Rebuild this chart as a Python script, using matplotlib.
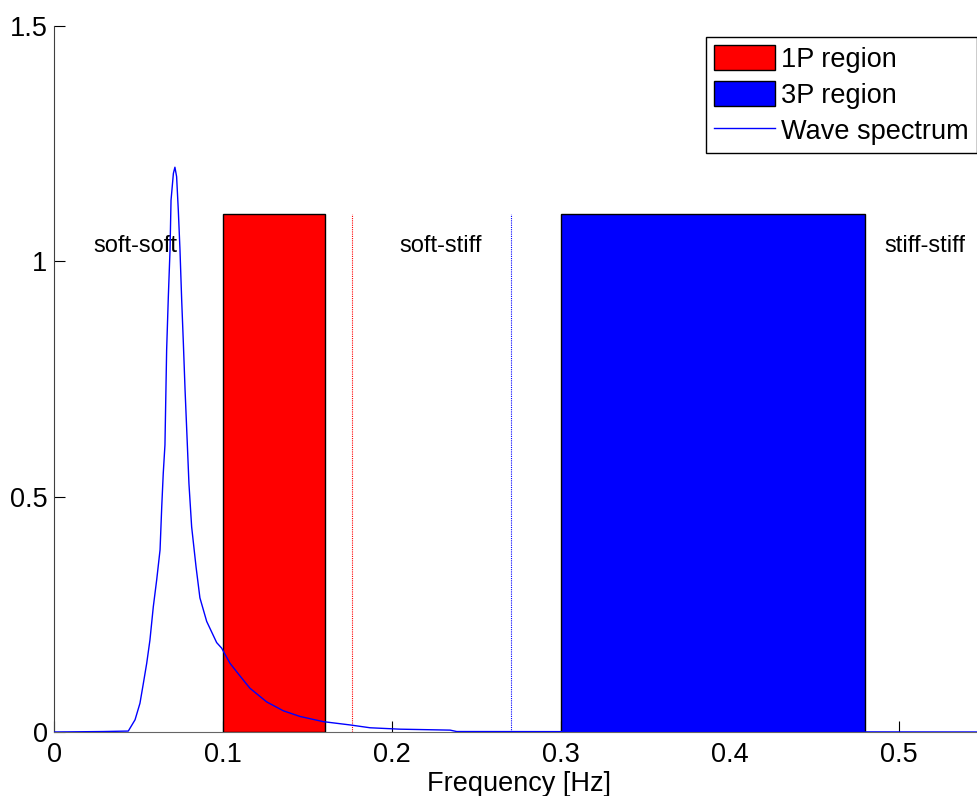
import matplotlib
matplotlib.use("Agg")
import matplotlib.pyplot as plt

plt.rcParams['font.family'] = ['Liberation Sans', 'DejaVu Sans']

# wave spectrum (frequency in Hz, normalised density)
freq = [0, 0.029, 0.0437, 0.0477, 0.0506, 0.0526, 0.0546, 0.0565, 0.0585, 0.0605,
        0.0625, 0.0635, 0.0644, 0.0654, 0.0664, 0.0674, 0.0684, 0.0690, 0.0704, 0.0713,
        0.0723, 0.0733, 0.0743, 0.0753, 0.0763, 0.0773, 0.0786, 0.0796, 0.0812, 0.0838,
        0.0861, 0.0901, 0.0960, 0.0990, 0.1039, 0.1094, 0.1157, 0.1256, 0.1355, 0.1454,
        0.1591, 0.1750, 0.1868, 0.2046, 0.2342, 0.2381, 0.55]
spec = [0, 0.001, 0.002, 0.026, 0.061, 0.103, 0.146, 0.195, 0.266, 0.323,
        0.387, 0.479, 0.550, 0.610, 0.812, 0.925, 1.024, 1.130, 1.187, 1.200,
        1.180, 1.109, 1.024, 0.918, 0.826, 0.727, 0.615, 0.528, 0.436, 0.351,
        0.285, 0.235, 0.190, 0.178, 0.146, 0.121, 0.093, 0.064, 0.045, 0.033,
        0.022, 0.015, 0.009, 0.006, 0.004, 0.001, 0.0]

# rotor excitation bands
region_names = ['1P region', '3P region']
region_lo = [0.1, 0.3]
region_hi = [0.16, 0.48]
region_colors = ['#ff0000', '#0000ff']
region_height = 1.1

# soft-stiff window limits
bounds = [0.176, 0.27]
bound_colors = ['#ff0000', '#0000ff']

design_names = ['soft-soft', 'soft-stiff', 'stiff-stiff']
design_x = [0.023, 0.204, 0.491]
design_y = 1.02

fig = plt.figure(figsize=(9.78, 7.96), dpi=100)
ax = fig.add_axes([0.0557, 0.0804, 0.950, 0.8869])

handles = []
for name, lo, hi, c in zip(region_names, region_lo, region_hi, region_colors):
    bars = ax.bar(lo, region_height, width=hi - lo, align='edge', color=c,
                  edgecolor='black', linewidth=1.0, label=name, zorder=3)
    handles.append(bars)

for b, c in zip(bounds, bound_colors):
    ax.plot([b, b], [0, region_height], color=c, linestyle=(0, (1, 1)),
            linewidth=0.8, zorder=3)

line, = ax.plot(freq, spec, color='#0000ff', linewidth=1.0, label='Wave spectrum', zorder=4)
handles.append(line)

for name, x in zip(design_names, design_x):
    ax.text(x, design_y, name, fontsize=17, va='baseline', ha='left')

ax.set_xlim(0, 0.55)
ax.set_ylim(0, 1.5)
ax.set_xticks([0, 0.1, 0.2, 0.3, 0.4, 0.5])
ax.set_xticklabels(['0', '0.1', '0.2', '0.3', '0.4', '0.5'])
ax.set_yticks([0, 0.5, 1, 1.5])
ax.set_yticklabels(['0', '0.5', '1', '1.5'])
ax.tick_params(direction='in', length=8, width=0.8, labelsize=19.5)
ax.tick_params(axis='x', pad=7)
ax.tick_params(axis='y', pad=5)
ax.spines['top'].set_visible(False)
ax.spines['right'].set_visible(False)
ax.spines['left'].set_color('0.25')
ax.spines['bottom'].set_color('0.4')
ax.set_xlabel('Frequency [Hz]', fontsize=19.5, labelpad=2)

leg = ax.legend(handles=handles, labels=[h.get_label() for h in handles],
                loc='upper right', bbox_to_anchor=(977 / 978, 1 - 37 / 796),
                bbox_transform=fig.transFigure, fontsize=19.5, fancybox=False,
                framealpha=1, edgecolor='black', handlelength=2.26,
                handleheight=1.04, handletextpad=0.22, borderpad=0.3,
                labelspacing=0.3, borderaxespad=0)
leg.get_frame().set_linewidth(1.0)

fig.savefig('out.png', dpi=100)
